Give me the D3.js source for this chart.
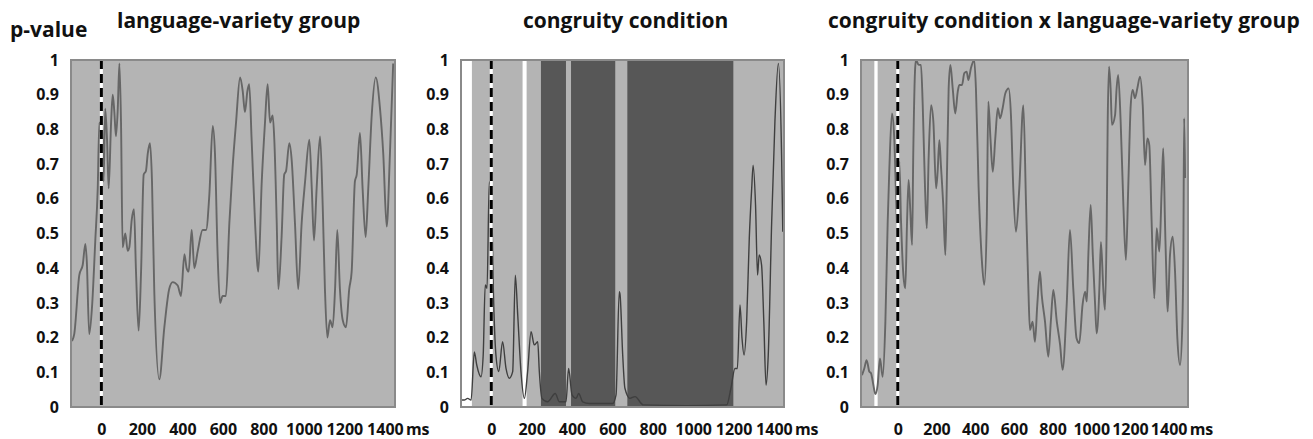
<!DOCTYPE html>
<html lang="en">
<head>
    <meta charset="UTF-8">
    <title>p-value time courses</title>
    <script src="https://d3js.org/d3.v7.min.js"></script>
    <style>
        body {margin: 0; background: white;}
        svg text {font-family: "Open Sans", Lato, sans-serif; font-weight: bold; fill: #111;}
    </style>
</head>
<body>
<script>
    const width = 1313;
    const height = 439;

    // time axis (ms) and p-value ticks
    const xTicks = [0, 200, 400, 600, 800, 1000, 1200, 1400];
    const yTicks = [0, 0.1, 0.2, 0.3, 0.4, 0.5, 0.6, 0.7, 0.8, 0.9, 1];
    const titles = ["language-variety group", "congruity condition", "congruity condition x language-variety group"];

    // language-variety group
    const groupMs = [-145,-134,-109,-92,-79,-72,-60,-46,-30,-18,-10,-2,3,11,19,28,36,48,56,64,
        72,81,89,97,105,118,130,138,150,161,171,184,196,209,220,229,240,250,261,286,
        311,335,352,377,393,410,421,431,446,459,476,500,517,533,550,561,574,586,599,615,
        632,648,665,685,698,709,721,730,742,759,775,792,808,821,833,846,854,866,874,890,
        903,912,928,940,956,972,989,1006,1027,1039,1050,1063,1080,1093,1104,1116,1129,1142,1154,1165,
        1178,1192,1208,1224,1236,1252,1261,1277,1290,1305,1318,1335,1355,1376,1392,1409,1425,1441];
    const groupP = [0.19,0.21,0.38,0.41,0.47,0.42,0.21,0.29,0.48,0.63,0.82,0.79,0.83,0.65,0.86,0.77,0.63,0.82,0.90,0.85,
        0.78,0.86,0.99,0.82,0.46,0.50,0.45,0.46,0.54,0.57,0.39,0.22,0.39,0.67,0.68,0.73,0.76,0.65,0.34,0.08,
        0.23,0.34,0.36,0.35,0.32,0.44,0.40,0.39,0.51,0.40,0.45,0.51,0.51,0.61,0.81,0.73,0.44,0.30,0.32,0.32,
        0.53,0.69,0.82,0.95,0.91,0.85,0.91,0.93,0.77,0.53,0.39,0.65,0.82,0.93,0.82,0.84,0.77,0.53,0.34,0.49,
        0.67,0.68,0.76,0.71,0.53,0.34,0.53,0.65,0.77,0.63,0.48,0.63,0.78,0.58,0.34,0.20,0.25,0.23,0.34,0.51,
        0.34,0.25,0.23,0.34,0.39,0.65,0.67,0.79,0.63,0.49,0.63,0.84,0.95,0.86,0.73,0.52,0.73,0.99];

    // congruity condition
    const congruityMs = [-145,-134,-117,-100,-84,-72,-51,-40,-30,-21,-10,0,10,23,37,56,73,89,106,119,
        131,147,164,180,197,213,230,238,251,279,317,337,370,383,400,420,433,453,486,601,
        618,634,638,651,662,687,712,753,968,1166,1187,1207,1219,1232,1242,1252,1265,1278,1290,1297,
        1309,1319,1327,1339,1350,1361,1372,1389,1405,1422,1438,1444];
    const congruityP = [0.02,0.02,0.025,0.02,0.159,0.121,0.087,0.15,0.352,0.342,0.649,0.63,0.342,0.15,0.102,0.188,0.111,0.083,0.102,0.38,
        0.265,0.102,0.025,0.102,0.217,0.179,0.188,0.102,0.025,0.015,0.039,0.015,0.015,0.111,0.035,0.025,0.039,0.015,0.01,0.01,
        0.035,0.332,0.323,0.15,0.054,0.025,0.03,0.006,0.004,0.006,0.054,0.111,0.111,0.294,0.198,0.15,0.246,0.486,0.63,0.697,
        0.582,0.38,0.438,0.409,0.246,0.063,0.15,0.534,0.822,0.99,0.726,0.505];
    // shaded time windows [start, end, kind]
    const congruityBands = [[-150,-96,"white"],[155,175,"white"],[246,370,"dark"],[395,614,"dark"],[674,1199,"dark"]];

    // congruity condition x language-variety group
    const interactionMs = [-185,-173,-161,-147,-138,-126,-116,-104,-92,-78,-64,-52,-44,-30,-18,-9,0,8,17,29,
        39,48,56,65,74,80,89,94,108,120,129,141,150,160,172,184,198,206,215,223,
        235,246,253,263,272,284,297,310,318,332,344,356,365,378,395,404,418,435,447,460,
        468,479,491,504,517,529,542,556,573,585,597,611,628,649,663,675,683,697,709,721,
        735,744,761,778,791,804,822,839,852,873,890,907,924,938,955,968,977,985,997,1008,
        1020,1028,1042,1050,1062,1071,1080,1085,1092,1100,1107,1123,1131,1139,1152,1166,1179,1191,1204,1214,
        1226,1238,1252,1266,1278,1290,1300,1312,1326,1338,1352,1364,1372,1381,1390,1395,1407,1421,1433,1445,
        1459,1471,1476,1480,1485];
    const interactionP = [0.092,0.111,0.135,0.102,0.097,0.063,0.037,0.063,0.14,0.087,0.246,0.534,0.678,0.846,0.774,0.611,0.476,0.707,0.534,0.38,
        0.342,0.534,0.654,0.563,0.467,0.726,0.966,1.0,0.986,0.986,0.87,0.63,0.515,0.726,0.87,0.822,0.63,0.678,0.769,0.697,
        0.582,0.438,0.63,0.918,0.986,0.918,0.846,0.909,0.928,0.928,0.962,0.966,0.942,0.976,1.0,0.918,0.63,0.419,0.352,0.534,
        0.88,0.774,0.678,0.774,0.861,0.832,0.861,0.904,0.918,0.841,0.63,0.505,0.63,0.87,0.582,0.342,0.222,0.246,0.188,0.294,
        0.39,0.323,0.246,0.145,0.246,0.337,0.246,0.179,0.107,0.294,0.51,0.342,0.198,0.184,0.294,0.332,0.304,0.438,0.582,0.438,
        0.294,0.212,0.342,0.476,0.342,0.28,0.534,0.822,0.981,0.918,0.813,0.841,0.918,0.957,0.822,0.582,0.424,0.63,0.87,0.914,
        0.89,0.918,0.952,0.87,0.697,0.774,0.755,0.534,0.313,0.515,0.448,0.63,0.746,0.534,0.342,0.275,0.438,0.491,0.39,0.198,
        0.121,0.246,0.438,0.832,0.66];
    const interactionBands = [[-121,-104,"white"]];

    const bandColor = {white: "#ffffff", dark: "#575757"};

    const plotTop = 60, plotBottom = 407;
    const panels = [
        {title: titles[0], ms: groupMs, p: groupP, bands: [], domain: [-150, 1450], left: 71, right: 395, titleX: 117, lineCls: "pline"},
        {title: titles[1], ms: congruityMs, p: congruityP, bands: congruityBands, domain: [-150, 1450], left: 461, right: 784, titleX: 523, lineCls: "pline dark"},
        {title: titles[2], ms: interactionMs, p: interactionP, bands: interactionBands, domain: [-190, 1500], left: 861, right: 1188, titleX: 828, lineCls: "pline"}
    ];

    const svg = d3.select("body").append("svg")
            .attr("width", width).attr("height", height);

    svg.append("text").attr("x", 10).attr("y", 37)
            .style("font-size", "21px").text("p-value");

    const y = d3.scaleLinear().domain([0, 1]).range([plotBottom, plotTop]);

    panels.forEach(function(pn, i) {
        const x = d3.scaleLinear().domain(pn.domain).range([pn.left, pn.right]);
        const g = svg.append("g").attr("class", "panel");
        const clipId = "clip" + i;

        g.append("clipPath").attr("id", clipId)
                .append("rect")
                .attr("x", pn.left).attr("y", plotTop)
                .attr("width", pn.right - pn.left).attr("height", plotBottom - plotTop);

        g.append("rect").attr("class", "background")
                .attr("x", pn.left).attr("y", plotTop)
                .attr("width", pn.right - pn.left).attr("height", plotBottom - plotTop);

        g.selectAll("rect.band")
                .data(pn.bands).enter()
                .append("rect").attr("class", "band")
                .attr("clip-path", "url(#" + clipId + ")")
                .attr("x", d => x(d[0]))
                .attr("width", d => x(d[1]) - x(d[0]))
                .attr("y", plotTop).attr("height", plotBottom - plotTop)
                .style("fill", d => bandColor[d[2]]);

        const points = d3.zip(pn.ms, pn.p);
        const line = d3.line()
                .x(d => x(d[0])).y(d => y(d[1]))
                .curve(d3.curveMonotoneX);

        g.append("path").attr("class", pn.lineCls)
                .attr("clip-path", "url(#" + clipId + ")")
                .datum(points)
                .attr("d", line);

        // stimulus onset
        g.append("line").attr("class", "onset-bg")
                .attr("x1", x(0)).attr("x2", x(0))
                .attr("y1", plotTop).attr("y2", plotBottom - 2);
        g.append("line").attr("class", "onset")
                .attr("x1", x(0)).attr("x2", x(0))
                .attr("y1", plotTop).attr("y2", plotBottom - 2);

        g.append("rect").attr("class", "frame")
                .attr("x", pn.left).attr("y", plotTop)
                .attr("width", pn.right - pn.left).attr("height", plotBottom - plotTop);

        const yAxis = g.append("g")
                .attr("transform", "translate(" + pn.left + ",0)")
                .call(d3.axisLeft(y).tickValues(yTicks).tickSize(0).tickPadding(12).tickFormat(d => String(d)));
        const xAxis = g.append("g")
                .attr("transform", "translate(0," + plotBottom + ")")
                .call(d3.axisBottom(x).tickValues(xTicks).tickSize(0).tickPadding(17).tickFormat(d => String(d)));
        [yAxis, xAxis].forEach(a => {
            a.attr("font-family", null);
            a.select(".domain").remove();
            a.selectAll("text").style("font-size", "16px").style("fill", "#111");
        });

        g.append("text").attr("x", x(1400) + 21).attr("y", 435)
                .style("font-size", "16px").text("ms");

        g.append("text").attr("x", pn.titleX).attr("y", 28)
                .style("font-size", "21px").text(pn.title);
    });
</script>
<style>
    .background {
        fill: #b4b4b4;
    }
    .pline {
        fill: none;
        stroke: #666;
        stroke-width: 1.9;
    }
    .pline.dark {
        stroke: #3f3f3f;
        stroke-width: 1.4;
    }
    .onset-bg {
        stroke: white;
        stroke-width: 3;
    }
    .onset {
        stroke: black;
        stroke-width: 3;
        stroke-dasharray: 9, 5;
    }
    .frame {
        fill: none;
        stroke: #8a8a8a;
        stroke-width: 2;
    }
</style>
</body>
</html>
